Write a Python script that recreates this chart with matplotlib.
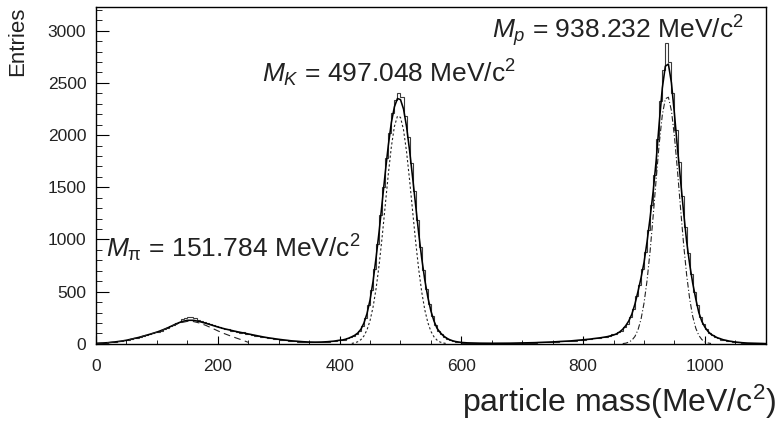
import matplotlib
matplotlib.use("Agg")
import matplotlib.pyplot as plt
import numpy as np

plt.rcParams['font.family'] = 'Liberation Sans'
plt.rcParams['mathtext.fontset'] = 'custom'
plt.rcParams['mathtext.rm'] = 'Liberation Sans'
plt.rcParams['mathtext.it'] = 'Liberation Sans:italic'

# histogram, 5 MeV bins from 0 to 1100
bin_width = 5
counts = [
    3, 6, 8, 12, 14, 16, 20, 24, 28, 33, 40, 45, 52, 58, 68, 75, 84, 92, 102, 110,
    118, 128, 140, 152, 168, 180, 196, 210, 238, 250, 255, 258, 250, 232, 218, 210, 200, 186, 178, 168,
    160, 150, 146, 140, 128, 126, 118, 108, 112, 98, 94, 88, 80, 76, 70, 64, 60, 56, 50, 46,
    42, 38, 34, 32, 28, 26, 22, 22, 18, 20, 16, 15, 18, 16, 18, 22, 20, 26, 28, 34,
    38, 42, 52, 62, 78, 95, 125, 170, 250, 370, 520, 720, 960, 1230, 1500, 1780, 2020, 2210, 2340, 2400,
    2360, 2180, 1980, 1730, 1460, 1190, 930, 710, 525, 380, 265, 185, 128, 95, 68, 50, 36, 28, 20, 16,
    12, 11, 9, 8, 7, 8, 6, 5, 7, 5, 6, 4, 7, 5, 6, 8, 6, 9, 7, 10,
    8, 11, 9, 13, 11, 14, 15, 14, 18, 17, 21, 20, 24, 23, 28, 27, 32, 31, 36, 38,
    40, 44, 46, 52, 55, 60, 64, 70, 76, 92, 98, 112, 128, 160, 190, 255, 330, 460, 560, 720,
    880, 1090, 1330, 1620, 1960, 2330, 2620, 2880, 2700, 2400, 2050, 1740, 1420, 1120, 870, 670, 500, 370, 260, 190,
    140, 108, 82, 65, 52, 42, 36, 30, 24, 20, 16, 14, 11, 9, 8, 6, 5, 4, 4, 3,
]

# total fit
fit_x = np.concatenate([np.arange(0, 401, 10), np.arange(405, 601, 5),
                        np.arange(610, 851, 10), np.arange(855, 1011, 5),
                        np.arange(1020, 1101, 10)])
fit_y = [
    5, 8, 12, 18, 25, 35, 48, 62, 78, 95, 113, 135, 160, 188, 212, 226, 226, 214, 198, 180,
    162, 146, 132, 119, 107, 96, 84, 72, 61, 52, 44, 37, 30, 25, 21, 18, 17, 18, 21, 26, 35,
    38, 45, 55, 68, 83, 105, 140, 200, 290, 420, 600, 830, 1080, 1360, 1640, 1900, 2120, 2270, 2350,
    2340, 2250, 2080, 1850, 1590, 1320, 1055, 815, 610, 445, 315, 220, 150, 110, 80, 58, 42, 31, 23, 18, 14,
    10, 8, 7, 6, 6, 6, 6, 7, 8, 9, 10, 12, 14, 16, 19, 22, 25, 29, 34, 39, 45, 52, 60, 70, 85,
    97, 115, 140, 175, 220, 285, 380, 500, 630, 780, 980, 1210, 1460, 1760, 2120, 2450, 2660, 2680,
    2500, 2200, 1870, 1560, 1260, 980, 760, 580, 430, 300, 215, 160, 120, 92,
    60, 40, 27, 18, 12, 8, 6, 4, 3,
]

# components
pi_x = np.arange(0, 251, 10)
pi_y = [5, 8, 12, 18, 25, 35, 48, 62, 78, 95, 113, 134, 158, 183, 204, 216, 214, 200, 178, 152,
        125, 100, 78, 57, 37, 15]
k_x = np.arange(420, 576, 5)
k_y = [5, 10, 21, 41, 76, 134, 223, 354, 532, 760, 1031, 1328, 1625, 1888, 2082, 2181,
       2170, 2050, 1839, 1567, 1268, 974, 711, 493, 324, 203, 120, 68, 36, 18, 9, 4]
p_x = np.arange(865, 1011, 5)
p_y = [3, 7, 17, 35, 71, 133, 235, 391, 609, 891, 1226, 1584, 1923, 2192, 2348,
       2363, 2234, 1984, 1655, 1297, 955, 660, 429, 262, 150, 81, 41, 19, 9, 4]

labels = [r'$M_{\mathrm{\pi}}$ = 151.784 MeV/c$^2$',
          r'$M_K$ = 497.048 MeV/c$^2$',
          r'$M_p$ = 938.232 MeV/c$^2$']
label_pos = [(17, 830), (272, 2500), (651, 2925)]

fig = plt.figure(figsize=(7.77, 4.23), dpi=100)
ax = fig.add_axes([0.1236, 0.187, 0.862, 0.7965])

edges = np.arange(0, 1100 + bin_width, bin_width)
ax.stairs(counts, edges, color='#3a3a3a', lw=0.8)
ax.plot(fit_x, fit_y, color='black', lw=1.15)
ax.plot(pi_x, pi_y, color='#222222', lw=0.8, dashes=(6, 4))
ax.plot(k_x, k_y, color='#222222', lw=0.8, dashes=(2, 2))
ax.plot(p_x, p_y, color='#222222', lw=0.8, dashes=(5, 2, 1, 2))

for t, (x, y) in zip(labels, label_pos):
    ax.text(x, y, t, fontsize=19, color='#222222', va='baseline')

ax.set_xlim(0, 1100)
ax.set_ylim(0, 3227)
ax.set_xticks([0, 200, 400, 600, 800, 1000])
ax.set_xticks(np.arange(0, 1101, 50), minor=True)
ax.set_yticks([0, 500, 1000, 1500, 2000, 2500, 3000])
ax.set_yticks(np.arange(0, 3201, 100), minor=True)
ax.tick_params(axis='both', which='both', direction='in', labelsize=12.5,
               labelcolor='#222222', top=False, right=False)
ax.tick_params(axis='x', which='major', length=6, pad=11)
ax.tick_params(axis='x', which='minor', length=3)
ax.tick_params(axis='y', which='major', length=9, pad=7)
ax.tick_params(axis='y', which='minor', length=4)
for s in ax.spines.values():
    s.set_linewidth(1.0)

ax.set_ylabel('Entries', fontsize=16, loc='top', color='#222222')
ax.yaxis.set_label_coords(-0.101, 1.0)
ax.set_xlabel('particle mass(MeV/c$^2$)', fontsize=23, loc='right', color='#222222')
ax.xaxis.set_label_coords(1.015, -0.115)

fig.savefig('out.png', dpi=100)
